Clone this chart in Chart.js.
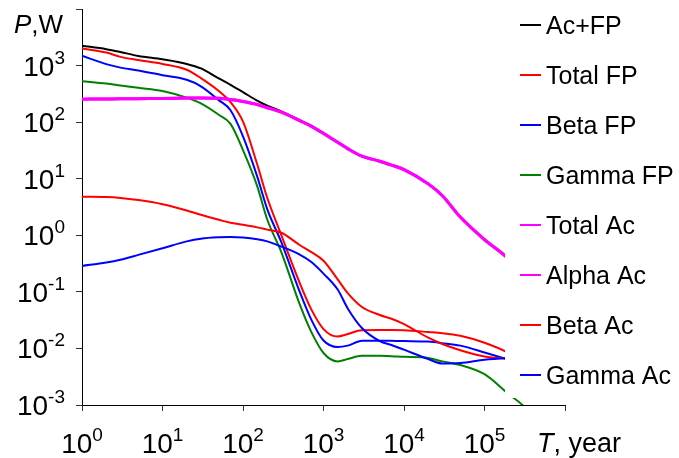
<!DOCTYPE html>
<html>
<head>
<meta charset="utf-8">
<script src="https://cdn.jsdelivr.net/npm/chart.js@4.4.1/dist/chart.umd.min.js"></script>
<style>
  html, body { margin: 0; padding: 0; background: #fff; }
  #wrap { width: 679px; height: 458px; position: relative; }
</style>
</head>
<body>
<div id="wrap"><canvas id="c" width="679" height="458"></canvas></div>
<script>
// Decay heat P (W) versus cooling time T (years)
const years = [1, 2, 3, 5, 10, 20, 30, 50, 70, 100, 150, 200, 300, 500, 700, 1000, 1500, 2000, 3000, 5000, 7000, 1e4, 2e4, 3e4, 5e4, 1e5, 2e5, 3e5, 5e5];

const acFp     = [2240, 1950, 1740, 1480, 1290, 1070, 890, 594, 457, 340, 240, 195, 155, 110, 87, 64, 44, 34, 25, 20.4, 17.4, 14.5, 8.1, 5.0, 2.1, 0.84, 0.38, 0.2, null];
const totalFp  = [2010, 1700, 1425, 1250, 1070, 845, 600, 355, 225, 102, 18, 4.6, 1.0, 0.15, 0.05, 0.022, 0.0162, 0.018, 0.021, 0.0211, 0.0211, 0.021, 0.0195, 0.0186, 0.0167, 0.0126, 0.0083, 0.0058, null];
const betaFp   = [1490, 1060, 920, 820, 675, 560, 430, 245, 162, 56, 11, 2.9, 0.75, 0.105, 0.033, 0.0138, 0.0106, 0.0112, 0.0136, 0.0137, 0.0136, 0.0135, 0.0132, 0.0124, 0.0112, 0.0085, 0.0063, 0.0052, null];
const gammaFp  = [530, 480, 445, 405, 355, 270, 215, 135, 93, 32, 7.4, 1.9, 0.5, 0.063, 0.02, 0.0083, 0.0059, 0.0065, 0.0074, 0.0074, 0.0073, 0.0071, 0.0068, 0.0059, 0.0051, 0.0035, 0.00155, 0.00098, 0.0004];
const totalAc  = [255, 257, 258, 260, 262, 266, 268, 264, 252, 232, 205, 180, 150, 107, 85, 63, 44, 34, 25, 20.4, 17.4, 14.5, 8.1, 5.0, 2.1, 0.84, 0.38, 0.2, null];
const alphaAc  = [255, 257, 258, 260, 262, 266, 268, 264, 252, 232, 205, 180, 150, 107, 85, 63, 44, 34, 25, 20.4, 17.4, 14.5, 8.1, 5.0, 2.1, 0.84, 0.38, 0.2, null];
const betaAc   = [4.8, 4.73, 4.57, 4.2, 3.55, 2.75, 2.3, 1.88, 1.66, 1.53, 1.38, 1.26, 1.11, 0.68, 0.51, 0.355, 0.166, 0.095, 0.054, 0.039, 0.0335, 0.027, 0.0155, 0.012, 0.0093, 0.0072, 0.0066, 0.0064, null];
const gammaAc  = [0.287, 0.33, 0.37, 0.45, 0.59, 0.78, 0.87, 0.92, 0.93, 0.91, 0.85, 0.78, 0.63, 0.46, 0.34, 0.21, 0.11, 0.051, 0.023, 0.0135, 0.0115, 0.0095, 0.0065, 0.0054, 0.0055, 0.0063, 0.0068, 0.007, null];

const seriesNames  = ['Ac+FP', 'Total FP', 'Beta FP', 'Gamma FP', 'Total Ac', 'Alpha Ac', 'Beta Ac', 'Gamma Ac'];
const seriesValues = [acFp, totalFp, betaFp, gammaFp, totalAc, alphaAc, betaAc, gammaAc];
const seriesColors = ['#000000', '#FF0000', '#0000FF', '#008000', '#FF00FF', '#FF00FF', '#FF0000', '#0000FF'];
const seriesWidths = [2, 2, 2, 2, 3, 3, 2, 2];

const xTicks = [1, 10, 100, 1e3, 1e4, 1e5, 1e6];
const xLabelled = [1, 10, 100, 1e3, 1e4, 1e5];
const yTicks = [1e-3, 1e-2, 1e-1, 1, 10, 100, 1e3, 1e4];
const yLabelled = [1e-3, 1e-2, 1e-1, 1, 10, 100, 1e3];

const FONT = "'Liberation Sans', Arial, Helvetica, sans-serif";

const datasets = seriesNames.map((name, i) => ({
  label: name,
  data: years.map((t, k) => ({ x: t, y: seriesValues[i][k] })),
  borderColor: seriesColors[i],
  backgroundColor: seriesColors[i],
  borderWidth: seriesWidths[i],
  pointRadius: 0,
  fill: false,
  cubicInterpolationMode: 'monotone',
  order: seriesNames.length - i   // later series drawn on top
}));

// "10" with a raised exponent
function powerLabel(ctx, exp, x, baseline, align) {
  const main = '10';
  ctx.font = '28px ' + FONT;
  const w1 = ctx.measureText(main).width;
  ctx.font = '19px ' + FONT;
  const w2 = ctx.measureText(exp).width;
  const total = w1 + w2;
  const start = align === 'right' ? x - total : x - total / 2;
  ctx.textAlign = 'left';
  ctx.textBaseline = 'alphabetic';
  ctx.fillStyle = '#000';
  ctx.font = '28px ' + FONT;
  ctx.fillText(main, start, baseline);
  ctx.font = '19px ' + FONT;
  ctx.fillText(exp, start + w1, baseline - 12);
}

const axisText = {
  id: 'axisText',
  afterDraw(chart) {
    const ctx = chart.ctx;
    const xs = chart.scales.x, ys = chart.scales.y;
    ctx.save();
    xLabelled.forEach(v => {
      powerLabel(ctx, String(Math.round(Math.log10(v))), xs.getPixelForValue(v), 453, 'center');
    });
    yLabelled.forEach(v => {
      powerLabel(ctx, String(Math.round(Math.log10(v))), 65, ys.getPixelForValue(v) + 10, 'right');
    });

    // axis titles
    ctx.fillStyle = '#000';
    ctx.textBaseline = 'alphabetic';
    ctx.textAlign = 'left';
    ctx.font = 'italic 26px ' + FONT;
    ctx.fillText('P', 14, 33);
    let w = ctx.measureText('P').width;
    ctx.font = '26px ' + FONT;
    ctx.fillText(',W', 14 + w, 33);

    ctx.font = 'italic 27px ' + FONT;
    ctx.fillText('T', 537, 452);
    w = ctx.measureText('T').width;
    ctx.font = '27px ' + FONT;
    ctx.fillText(', year', 537 + w, 452);
    ctx.restore();
  }
};

// Legend on an opaque panel at the right
const sideLegend = {
  id: 'sideLegend',
  afterDatasetsDraw(chart) {
    const ctx = chart.ctx;
    ctx.save();
    ctx.fillStyle = '#fff';
    ctx.fillRect(505, 0, 679 - 505, 398);
    chart.data.datasets.forEach((ds, i) => {
      const yc = 25 + 50 * i;
      ctx.strokeStyle = ds.borderColor;
      ctx.lineWidth = 2;
      ctx.beginPath();
      ctx.moveTo(520, yc);
      ctx.lineTo(541, yc);
      ctx.stroke();
      ctx.fillStyle = '#000';
      ctx.font = '25px ' + FONT;
      ctx.textAlign = 'left';
      ctx.textBaseline = 'alphabetic';
      ctx.fillText(ds.label, 546, yc + 9);
    });
    ctx.restore();
  }
};

const tickStyle = {
  display: true,
  drawOnChartArea: false,
  drawTicks: true,
  tickLength: 6,
  color: '#333',
  lineWidth: 1
};

new Chart(document.getElementById('c'), {
  type: 'line',
  data: { datasets },
  options: {
    responsive: false,
    animation: false,
    devicePixelRatio: 1,
    layout: { padding: { left: 0, right: 114, top: 9, bottom: 0 } },
    plugins: { legend: { display: false }, tooltip: { enabled: false } },
    scales: {
      x: {
        type: 'logarithmic',
        min: 1, max: 1e6,
        grid: tickStyle,
        border: { display: true, color: '#000', width: 1 },
        ticks: { display: false },
        afterBuildTicks: s => { s.ticks = xTicks.map(v => ({ value: v })); },
        afterFit: s => { s.height = 53; }
      },
      y: {
        type: 'logarithmic',
        min: 1e-3, max: 1e4,
        grid: tickStyle,
        border: { display: true, color: '#000', width: 1 },
        ticks: { display: false },
        afterBuildTicks: s => { s.ticks = yTicks.map(v => ({ value: v })); },
        afterFit: s => { s.width = 82; }
      }
    }
  },
  plugins: [sideLegend, axisText]
});
</script>
</body>
</html>
